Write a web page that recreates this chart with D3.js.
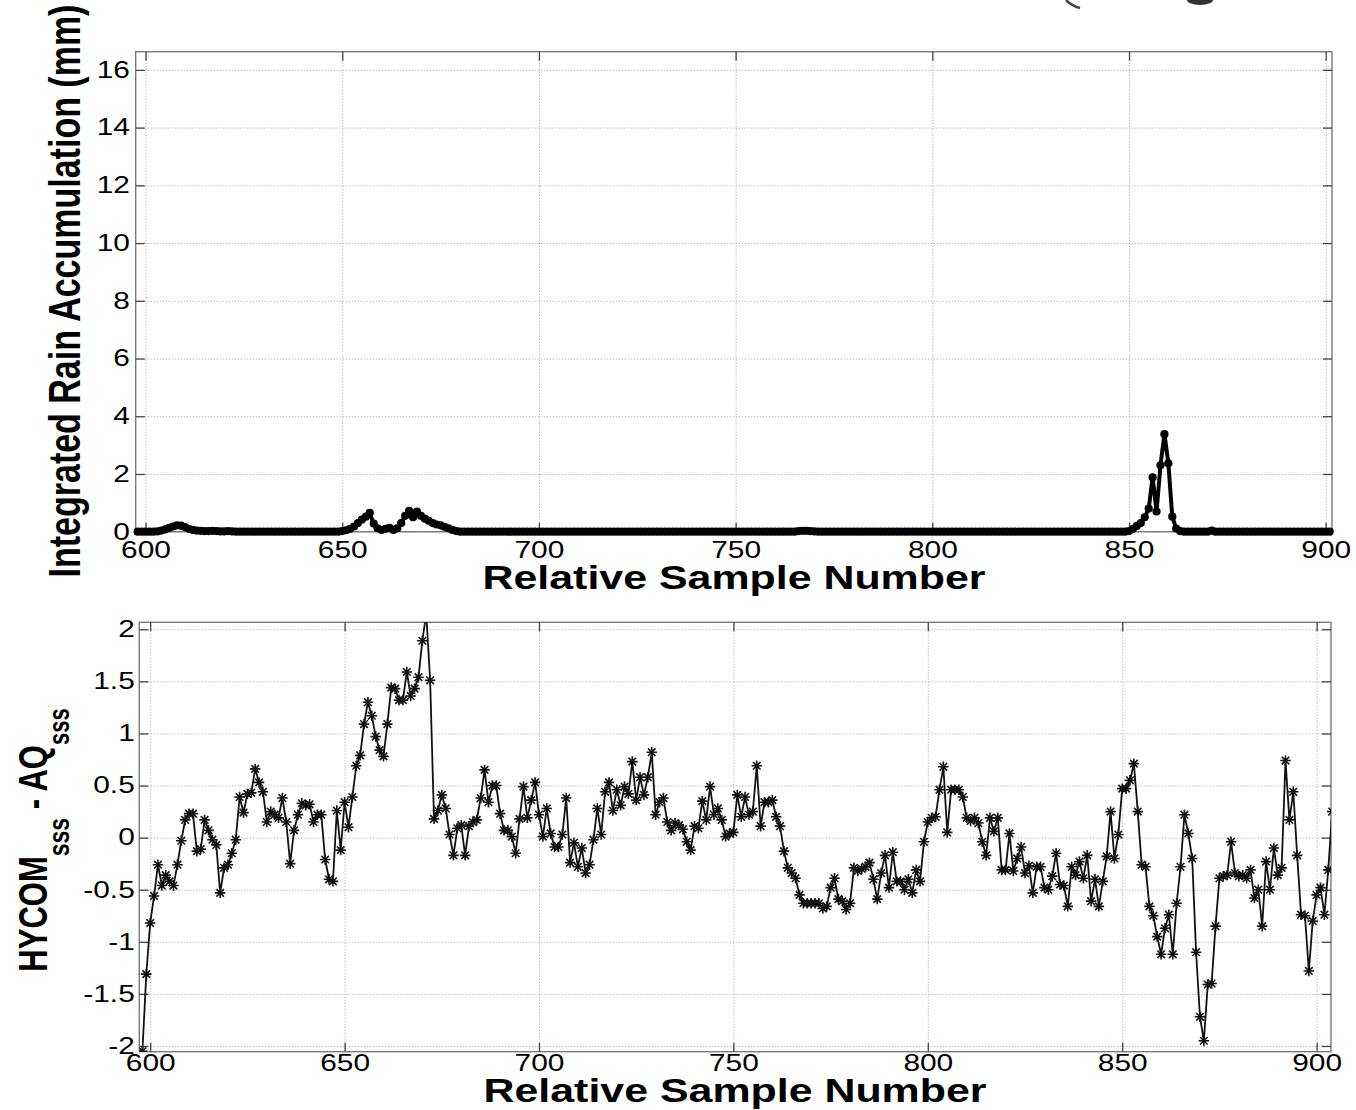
<!DOCTYPE html>
<html>
<head>
<meta charset="utf-8">
<script src="https://cdn.jsdelivr.net/npm/d3@7"></script>
<style>
body { margin: 0; background: #fff; }
svg { display: block; font-family: "Liberation Sans", Arial, Helvetica, sans-serif; }
</style>
</head>
<body>
<svg id="chart"></svg>
<script>
// ---- data ----
var sampleTicks = [600, 650, 700, 750, 800, 850, 900];
var rainTicks = [0, 2, 4, 6, 8, 10, 12, 14, 16];
var diffTicks = [-2, -1.5, -1, -0.5, 0, 0.5, 1, 1.5, 2];

// integrated rain accumulation (mm), samples 598..901
var rainStart = 598;
var rain = [
  0, 0,
  0, 0, 0, 0.01, 0.04, 0.08, 0.13, 0.18, 0.22, 0.21,          // 600
  0.16, 0.1, 0.06, 0.04, 0.03, 0.02, 0.02, 0.03, 0.02, 0.01,  // 610
  0.01, 0.02, 0.01, 0, 0, 0, 0, 0, 0, 0,                      // 620
  0, 0, 0, 0, 0, 0, 0, 0, 0, 0,                               // 630
  0, 0, 0, 0, 0, 0, 0, 0, 0, 0,                               // 640
  0.02, 0.05, 0.1, 0.18, 0.3, 0.42, 0.52, 0.65, 0.28, 0.12,   // 650
  0.06, 0.1, 0.13, 0.06, 0.12, 0.3, 0.55, 0.72, 0.5, 0.7,     // 660
  0.55, 0.45, 0.38, 0.3, 0.25, 0.22, 0.17, 0.12, 0.06, 0.02,  // 670
  0, 0, 0, 0, 0, 0, 0, 0, 0, 0,                               // 680
  0, 0, 0, 0, 0, 0, 0, 0, 0, 0,                               // 690
  0, 0, 0, 0, 0, 0, 0, 0, 0, 0,                               // 700
  0, 0, 0, 0, 0, 0, 0, 0, 0, 0,                               // 710
  0, 0, 0, 0, 0, 0, 0, 0, 0, 0,                               // 720
  0, 0, 0, 0, 0, 0, 0, 0, 0, 0,                               // 730
  0, 0, 0, 0, 0, 0, 0, 0, 0, 0,                               // 740
  0, 0, 0, 0, 0, 0, 0, 0, 0, 0,                               // 750
  0, 0, 0, 0, 0, 0, 0.02, 0.03, 0.03, 0.02,                   // 760
  0.01, 0, 0, 0, 0, 0, 0, 0, 0, 0,                            // 770
  0, 0, 0, 0, 0, 0, 0, 0, 0, 0,                               // 780
  0, 0, 0, 0, 0, 0, 0, 0, 0, 0,                               // 790
  0, 0, 0, 0, 0, 0, 0, 0, 0, 0,                               // 800
  0, 0, 0, 0, 0, 0, 0, 0, 0, 0,                               // 810
  0, 0, 0, 0, 0, 0, 0, 0, 0, 0,                               // 820
  0, 0, 0, 0, 0, 0, 0, 0, 0, 0,                               // 830
  0, 0, 0, 0, 0, 0, 0, 0, 0, 0,                               // 840
  0.02, 0.1, 0.2, 0.3, 0.5, 0.8, 1.88, 0.7, 2.3, 3.38,        // 850
  2.37, 0.52, 0.11, 0.02, 0, 0, 0, 0, 0, 0,                   // 860
  0, 0.04, 0, 0, 0, 0, 0, 0, 0, 0,                            // 870
  0, 0, 0, 0, 0, 0, 0, 0, 0, 0,                               // 880
  0, 0, 0, 0, 0, 0, 0, 0, 0, 0,                               // 890
  0, 0                                                        // 900
];

// HYCOM sss - AQ sss, samples 598..904
var diffStart = 598;
var diff = [
  -2.05, -1.31,
  -0.82, -0.56, -0.26, -0.46, -0.36, -0.42, -0.46, -0.26, -0.03, 0.17,    // 600
  0.23, 0.23, -0.13, -0.11, 0.17, 0.07, -0.02, -0.07, -0.53, -0.29,      // 610
  -0.26, -0.15, -0.02, 0.39, 0.24, 0.42, 0.43, 0.66, 0.53, 0.44,         // 620
  0.15, 0.25, 0.22, 0.19, 0.38, 0.15, -0.25, 0.07, 0.22, 0.33,           // 630
  0.31, 0.32, 0.15, 0.22, 0.22, -0.21, -0.40, -0.42, 0.26, -0.12,        // 640
  0.34, 0.10, 0.39, 0.69, 0.79, 1.09, 1.30, 1.17, 0.97, 0.84,            // 650
  0.78, 1.09, 1.44, 1.43, 1.32, 1.32, 1.59, 1.36, 1.43, 1.54,            // 660
  1.89, 2.15, 1.51, 0.18, 0.26, 0.41, 0.28, 0.03, -0.17, 0.09,           // 670
  0.12, -0.17, 0.11, 0.15, 0.17, 0.38, 0.65, 0.34, 0.50, 0.50,           // 680
  0.23, 0.07, 0.07, 0.01, -0.15, 0.18, 0.49, 0.19, 0.36, 0.53,           // 690
  0.22, 0.01, 0.28, 0.04, -0.09, -0.09, 0.03, 0.38, -0.24, -0.05,        // 700
  -0.28, -0.10, -0.34, -0.26, -0.02, 0.28, 0.03, 0.44, 0.53, 0.26,       // 710
  0.46, 0.31, 0.49, 0.42, 0.73, 0.36, 0.58, 0.41, 0.58, 0.82,            // 720
  0.22, 0.34, 0.38, 0.15, 0.07, 0.14, 0.12, 0.08, -0.04, -0.12,          // 730
  0.11, 0.09, 0.35, 0.17, 0.49, 0.22, 0.28, 0.17, 0.01, 0.04,            // 740
  0.05, 0.41, 0.20, 0.39, 0.22, 0.25, 0.69, 0.11, 0.34, 0.34,            // 750
  0.36, 0.20, 0.11, -0.13, -0.29, -0.34, -0.39, -0.55, -0.63, -0.63,     // 760
  -0.63, -0.63, -0.63, -0.68, -0.66, -0.48, -0.39, -0.59, -0.61, -0.69,  // 770
  -0.63, -0.29, -0.32, -0.30, -0.28, -0.24, -0.40, -0.59, -0.34, -0.17,  // 780
  -0.48, -0.14, -0.42, -0.42, -0.50, -0.40, -0.53, -0.31, -0.42, -0.04,  // 790
  0.15, 0.19, 0.20, 0.46, 0.68, 0.05, 0.46, 0.46, 0.46, 0.39,            // 800
  0.19, 0.16, 0.19, 0.14, -0.04, -0.17, 0.19, 0.06, 0.19, -0.31,         // 810
  -0.31, 0.04, -0.32, -0.20, -0.09, -0.34, -0.27, -0.53, -0.28, -0.28,   // 820
  -0.48, -0.50, -0.37, -0.15, -0.45, -0.46, -0.66, -0.28, -0.36, -0.23,  // 830
  -0.39, -0.17, -0.61, -0.40, -0.66, -0.42, -0.18, 0.25, -0.20, 0.03,    // 840
  0.47, 0.47, 0.55, 0.71, 0.25, -0.26, -0.28, -0.66, -0.75, -0.95,       // 850
  -1.12, -0.87, -0.74, -1.12, -0.63, -0.28, 0.22, 0.04, -0.20, -1.10,    // 860
  -1.72, -1.95, -1.41, -1.40, -0.85, -0.39, -0.37, -0.36, -0.04, -0.34,  // 870
  -0.37, -0.36, -0.39, -0.31, -0.58, -0.50, -0.85, -0.23, -0.50, -0.10,  // 880
  -0.36, -0.29, 0.74, 0.17, 0.44, -0.17, -0.74, -0.75, -1.28, -0.80,     // 890
  -0.55, -0.48, -0.74, -0.31, 0.25                                       // 900
];

// ---- layout ----
var W = 1356, H = 1110, stretch = 1.3;
var svg = d3.select('#chart').attr('width', W).attr('height', H);
svg.append('rect').attr('width', W).attr('height', H).attr('fill', '#fff');

function fmt(d) { return String(d); }

function panel(box, xDom, yDom, yTicks, yPad, xPad) {
  var x = d3.scaleLinear().domain(xDom).range([box.l, box.r]);
  var y = d3.scaleLinear().domain(yDom).range([box.b, box.t]);
  var g = svg.append('g');

  // dotted grid
  var gx = g.append('g').attr('transform', 'translate(0,' + box.b + ')')
    .call(d3.axisBottom(x).tickValues(sampleTicks).tickSize(-(box.b - box.t)).tickFormat(''));
  var gy = g.append('g').attr('transform', 'translate(' + box.l + ',0)')
    .call(d3.axisLeft(y).tickValues(yTicks).tickSize(-(box.r - box.l)).tickFormat(''));
  [gx, gy].forEach(function (s) {
    s.select('.domain').remove();
    s.selectAll('text').remove();
    s.selectAll('line').attr('stroke', '#a0a0a0').attr('stroke-width', 1)
      .attr('stroke-dasharray', '1,2');
  });

  // frame
  g.append('rect').attr('x', box.l).attr('y', box.t)
    .attr('width', box.r - box.l).attr('height', box.b - box.t)
    .attr('fill', 'none').attr('stroke', '#7a7a7a').attr('stroke-width', 1.4);

  // inward ticks on four sides
  var ax = [
    g.append('g').attr('transform', 'translate(0,' + box.b + ')')
      .call(d3.axisBottom(x).tickValues(sampleTicks).tickSize(-9).tickPadding(xPad).tickFormat(fmt)),
    g.append('g').attr('transform', 'translate(0,' + box.t + ')')
      .call(d3.axisTop(x).tickValues(sampleTicks).tickSize(-9).tickFormat('')),
    g.append('g').attr('transform', 'translate(' + box.l + ',0)')
      .call(d3.axisLeft(y).tickValues(yTicks).tickSize(-9).tickPadding(yPad).tickFormat(fmt)),
    g.append('g').attr('transform', 'translate(' + box.r + ',0)')
      .call(d3.axisRight(y).tickValues(yTicks).tickSize(-9).tickFormat(''))
  ];
  ax.forEach(function (s) {
    s.select('.domain').remove();
    s.attr('font-size', null).attr('font-family', null);
    s.selectAll('line').attr('stroke', '#444').attr('stroke-width', 1.3);
    s.selectAll('text').attr('fill', '#000').style('font-size', '23px')
      .attr('transform', 'scale(' + stretch + ',1)');
  });
  return { x: x, y: y, g: g };
}

// ---- top panel: rain ----
var box1 = { l: 135.7, r: 1332, t: 51.7, b: 531.7 };
var p1 = panel(box1, [597.5, 901.6], [0, 16.63], rainTicks, 4.4, 10);

var rainPts = rain.map(function (v, i) { return [rainStart + i, v]; });
var line1 = d3.line().x(function (d) { return p1.x(d[0]); }).y(function (d) { return p1.y(d[1]); });
p1.g.append('path').datum(rainPts).attr('d', line1)
  .attr('fill', 'none').attr('stroke', '#000').attr('stroke-width', 4)
  .attr('stroke-linejoin', 'round');
p1.g.selectAll('circle.rain').data(rainPts).enter().append('circle')
  .attr('class', 'rain')
  .attr('cx', function (d) { return p1.x(d[0]); })
  .attr('cy', function (d) { return p1.y(d[1]); })
  .attr('r', 4.1).attr('fill', '#000');

// ---- bottom panel: salinity difference ----
var box2 = { l: 139.3, r: 1331, t: 622.3, b: 1051.7 };
var p2 = panel(box2, [597.2, 903.7], [-2.055, 2.067], diffTicks, 3.5, 3);

svg.append('clipPath').attr('id', 'clip2').append('rect')
  .attr('x', box2.l).attr('y', box2.t)
  .attr('width', box2.r - box2.l).attr('height', box2.b - box2.t);

var diffPts = diff.map(function (v, i) { return [diffStart + i, v]; });
var line2 = d3.line().x(function (d) { return p2.x(d[0]); }).y(function (d) { return p2.y(d[1]); });
var plot2 = p2.g.append('g').attr('clip-path', 'url(#clip2)');
plot2.append('path').datum(diffPts).attr('d', line2)
  .attr('fill', 'none').attr('stroke', '#111').attr('stroke-width', 1.8);

// matlab style '*' marker
var starType = {
  draw: function (ctx, size) {
    var r = Math.sqrt(size) / 2, q = r * 0.72;
    ctx.moveTo(-r, 0); ctx.lineTo(r, 0);
    ctx.moveTo(0, -r); ctx.lineTo(0, r);
    ctx.moveTo(-q, -q); ctx.lineTo(q, q);
    ctx.moveTo(-q, q); ctx.lineTo(q, -q);
  }
};
plot2.selectAll('path.star').data(diffPts).enter().append('path')
  .attr('class', 'star')
  .attr('d', d3.symbol().type(starType).size(110))
  .attr('transform', function (d) { return 'translate(' + p2.x(d[0]) + ',' + p2.y(d[1]) + ')'; })
  .attr('fill', 'none').attr('stroke', '#111').attr('stroke-width', 1.6);

// ---- axis titles ----
function xTitle(cx, by) {
  svg.append('text').attr('transform', 'translate(' + cx + ',' + by + ') scale(' + stretch + ',1)')
    .attr('text-anchor', 'middle').attr('font-weight', 'bold').style('font-size', '33px')
    .text('Relative Sample Number');
}
xTitle(734, 589);
xTitle(735, 1102);

svg.append('text')
  .attr('transform', 'translate(80,291) scale(' + stretch + ',1) rotate(-90)')
  .attr('text-anchor', 'middle').attr('font-weight', 'bold').style('font-size', '34px')
  .text('Integrated Rain Accumulation (mm)');

var t2 = svg.append('text')
  .attr('transform', 'translate(47,840) scale(' + stretch + ',1) rotate(-90)')
  .attr('text-anchor', 'middle').attr('font-weight', 'bold').style('white-space', 'pre');
t2.append('tspan').style('font-size', '31px').text('HYCOM');
t2.append('tspan').style('font-size', '23px').attr('dy', 17).text('sss');
t2.append('tspan').style('font-size', '31px').attr('dy', -17).text(' - AQ');
t2.append('tspan').style('font-size', '22px').attr('dy', 17).text('sss');

// cut-off marks at the top right edge of the page
svg.append('path').attr('d', 'M1066,0 Q1072,6 1080,8')
  .attr('fill', 'none').attr('stroke', '#444').attr('stroke-width', 2.5);
svg.append('ellipse').attr('cx', 1200).attr('cy', 0).attr('rx', 13).attr('ry', 5)
  .attr('fill', '#333');
</script>
</body>
</html>
